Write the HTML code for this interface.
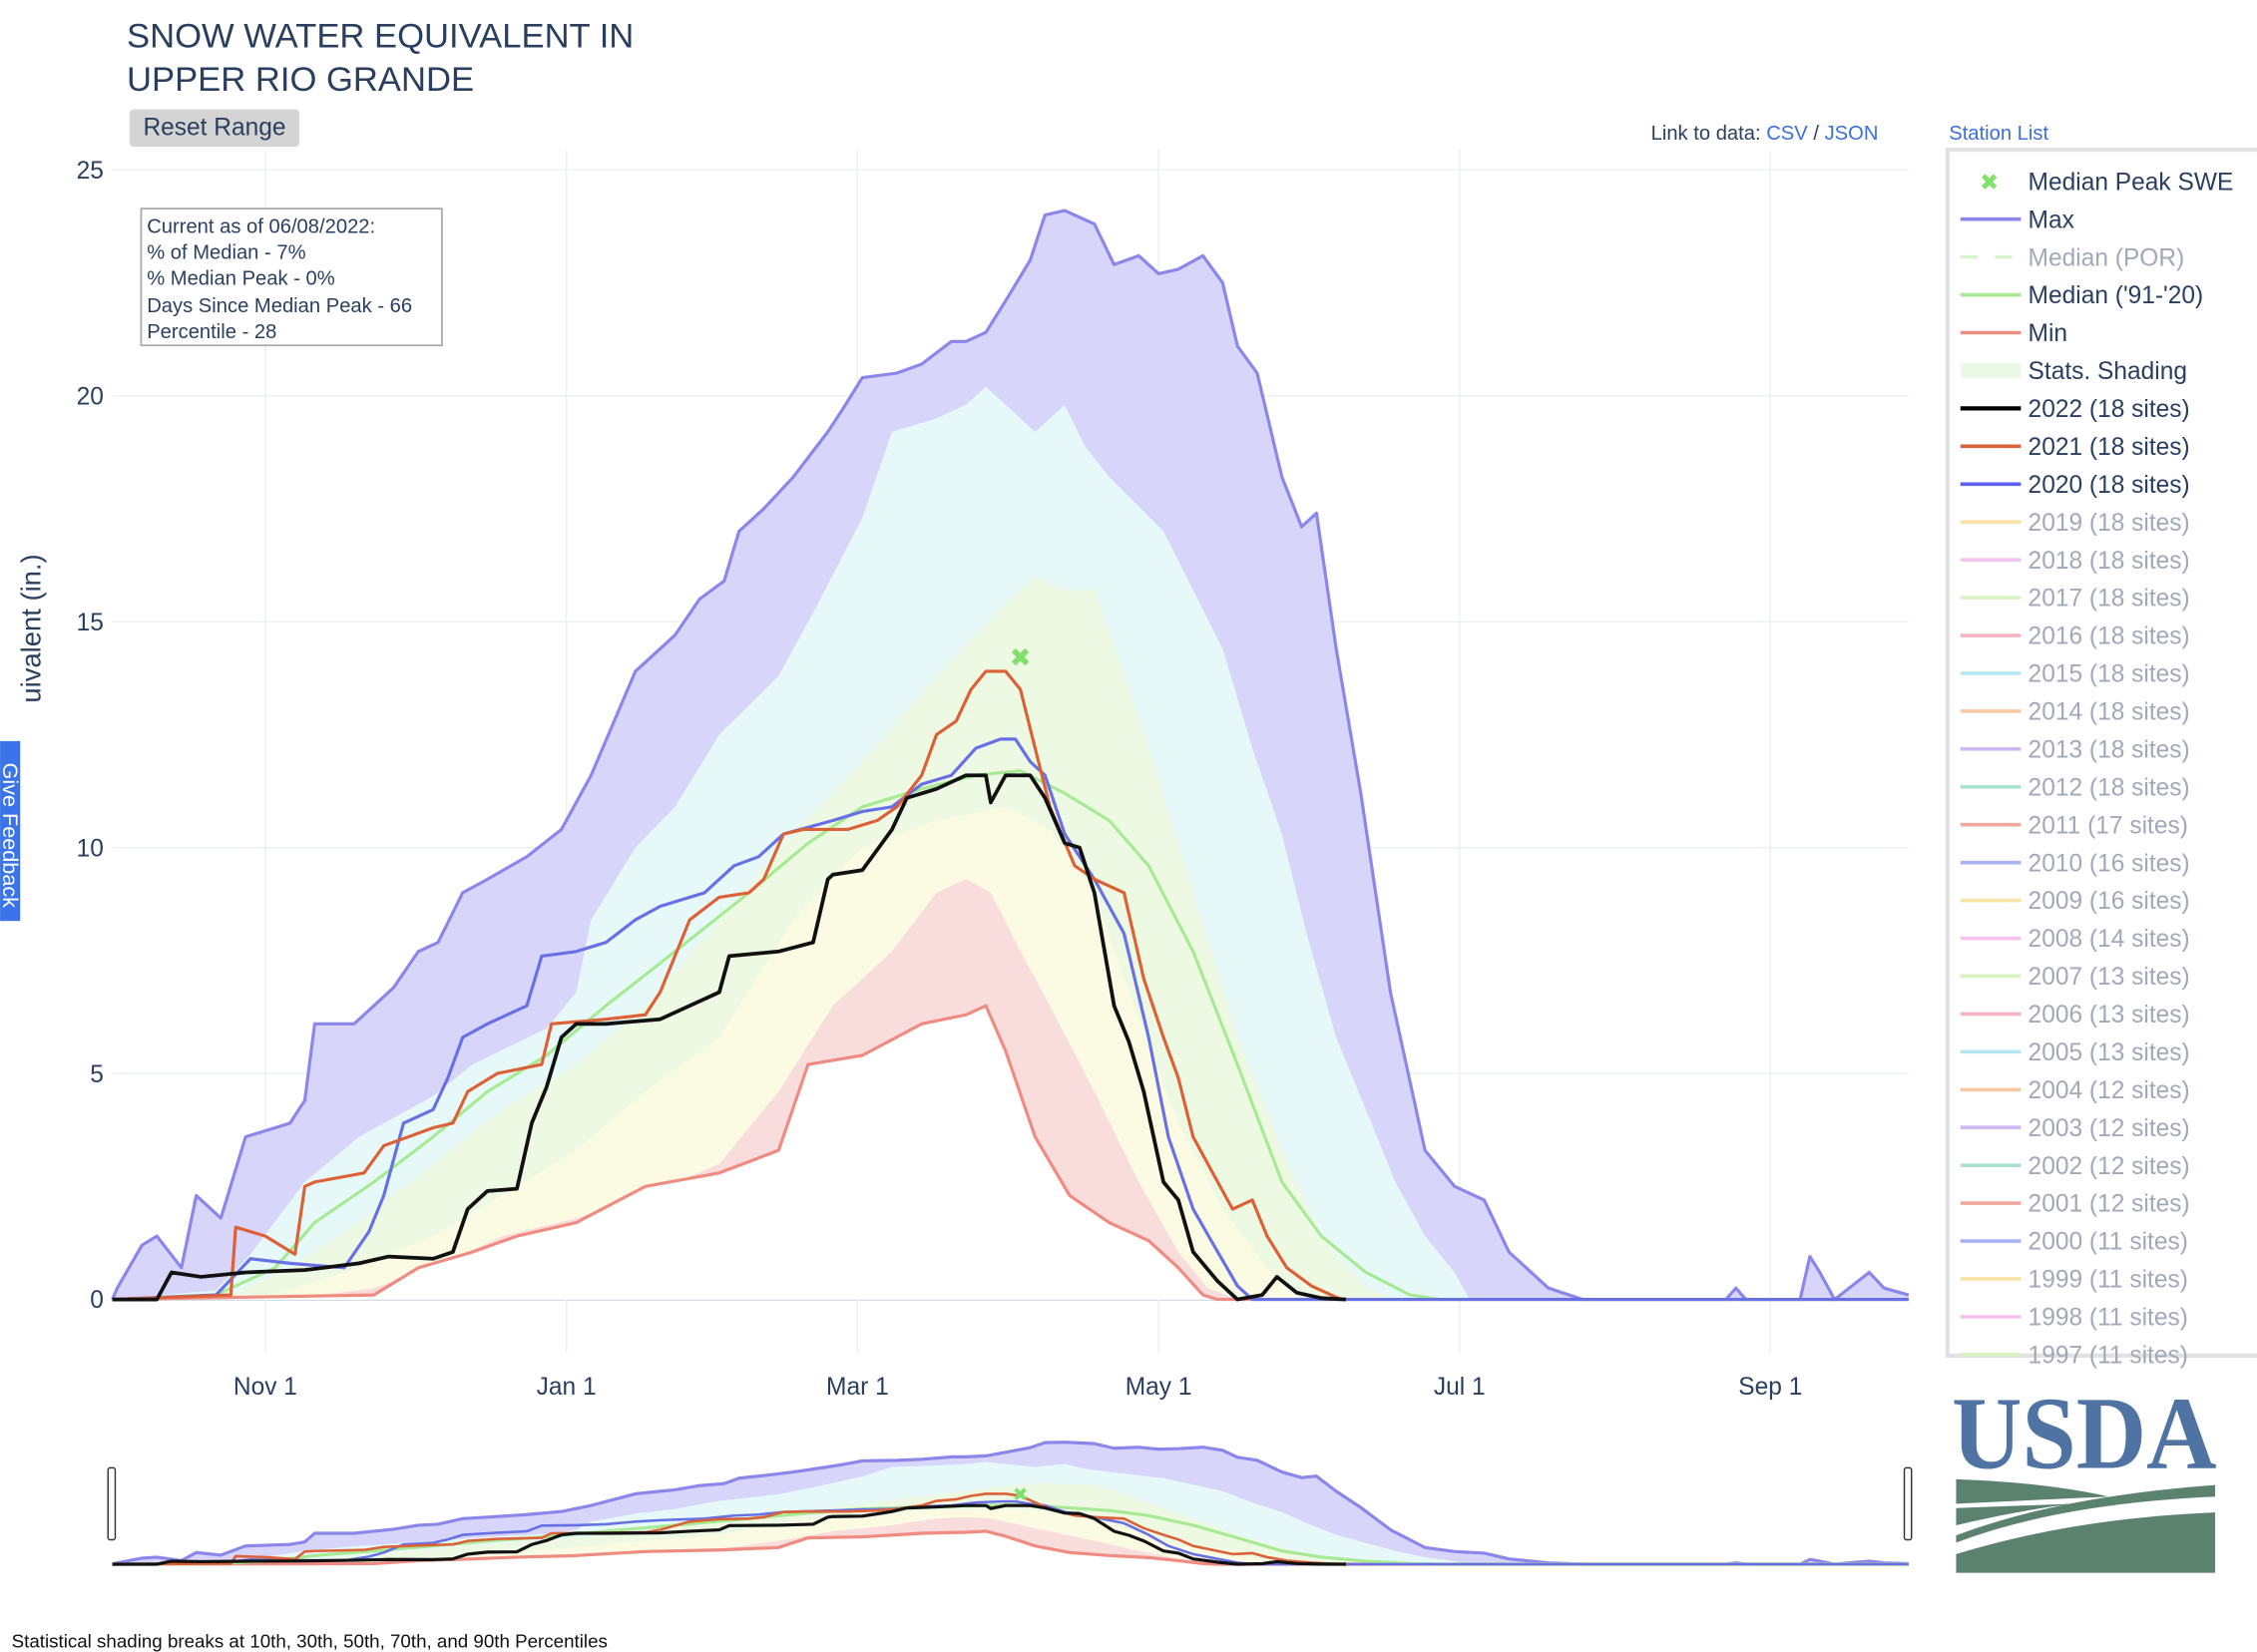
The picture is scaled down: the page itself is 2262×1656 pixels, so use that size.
<!DOCTYPE html>
<html><head><meta charset="utf-8"><style>
html,body{margin:0;padding:0;background:#fff;}
svg{display:block;font-family:"Liberation Sans","DejaVu Sans",sans-serif;}
</style></head><body>
<svg id="c" width="2262" height="1656" viewBox="0 0 1568 1148" xmlns="http://www.w3.org/2000/svg">
<g id="grid"></g>
<g id="bands"></g>
<g id="lines"></g>
<g id="axes"></g>
<g id="mini"></g>

<text x="88" y="33" font-size="24" fill="#2a3f5f">SNOW WATER EQUIVALENT IN</text>
<text x="88" y="63" font-size="24" fill="#2a3f5f">UPPER RIO GRANDE</text>
<g>
<rect x="90" y="76" width="118" height="26" rx="3" fill="#d4d4d4"/>
<text x="149" y="94" font-size="17" fill="#2a3f5f" text-anchor="middle">Reset Range</text></g>
<text x="1147" y="97" font-size="14" fill="#2a3f5f">Link to data: <tspan fill="#3b6fe0">CSV</tspan> / <tspan fill="#3b6fe0">JSON</tspan></text>
<text x="1354" y="97" font-size="14" fill="#3b6fe0">Station List</text>

<g>
<rect x="98" y="145" width="209" height="95" fill="#fff" stroke="#a8a8a8" stroke-width="1.2"/>
<text font-size="14" fill="#2a3f5f"><tspan x="102" y="162">Current as of 06/08/2022:</tspan><tspan x="102" y="180">% of Median - 7%</tspan><tspan x="102" y="198">% Median Peak - 0%</tspan><tspan x="102" y="217">Days Since Median Peak - 66</tspan><tspan x="102" y="235">Percentile - 28</tspan></text></g>

<text transform="translate(28,385) rotate(-90)" font-size="19" fill="#2a3f5f" text-anchor="end">uivalent (in.)</text>
<g>
<rect x="0" y="515" width="14" height="125" fill="#3b73e8"/>
<text transform="translate(2,530) rotate(90)" font-size="15" fill="#fff">Give Feedback</text></g>

<g id="legend">
<rect x="1353" y="104" width="220" height="838" fill="#fff" stroke="#e2e2e2" stroke-width="3"/>
</g>

<g>
<text x="1356" y="1020" font-family="Liberation Serif,serif" font-weight="bold" font-size="72" fill="#4f74a3" textLength="184" lengthAdjust="spacingAndGlyphs">USDA</text>
<path d="M1359 1028 Q1420 1030 1465 1040 L1359 1045 Z" fill="#5a826e"/>
<path d="M1359 1048 L1440 1045 Q1400 1050 1359 1060 Z" fill="#5a826e"/>
<path d="M1359 1067 Q1430 1040 1539 1032 L1539 1040 Q1430 1045 1359 1072 Z" fill="#5a826e"/>
<path d="M1359 1080 Q1440 1055 1539 1051 L1539 1093 L1359 1093 Z" fill="#5a826e"/>
</g>
<text x="8" y="1145" font-size="13" fill="#111">Statistical shading breaks at 10th, 30th, 50th, 70th, and 90th Percentiles</text>

<script>
// day index from Oct 1 (water year), values in inches
const maxDays=[0,1,6,9,14,17,22,27,33,36,39,41,49,53,57,62,66,71,76,84,91,97,106,111,114,119,124,127,132,138,145,148,152,159,164,170,173,177,181,186,189,193,199,203,208,212,216,221,225,228,232,237,241,244,248,253,259,266,272,278,283,291,298,327,329,331,342,344,346,349,356,359,364];
const maxVals=[0,0.25,1.2,1.4,0.7,2.3,1.8,3.6,3.8,3.9,4.4,6.1,6.1,6.5,6.9,7.7,7.9,9.0,9.3,9.8,10.4,11.6,13.9,14.4,14.7,15.5,15.9,17.0,17.5,18.2,19.2,19.7,20.4,20.5,20.7,21.2,21.2,21.4,22.1,23.0,24.0,24.1,23.8,22.9,23.1,22.7,22.8,23.1,22.5,21.1,20.5,18.2,17.1,17.4,14.4,11.2,6.8,3.3,2.5,2.2,1.05,0.25,0,0,0.25,0,0,0.95,0.6,0,0.6,0.25,0.1];
const p90Days=[0,21,28,39,50,65,73,88,94,97,106,114,123,135,143,152,158,167,173,177,181,187,193,197,202,213,219,225,231,237,242,248,254,260,266,272,275];
const p90Vals=[0,0.2,1.0,2.6,3.6,4.5,5.2,6.0,6.8,8.4,10.0,10.9,12.5,13.8,15.4,17.3,19.2,19.5,19.8,20.2,19.8,19.2,19.8,18.9,18.2,17.0,15.7,14.4,12.2,10.3,8.1,5.8,4.2,2.6,1.4,0.6,0];
const p70Days=[0,24,36,50,65,79,94,108,123,138,152,167,181,187,193,199,205,210,219,228,237,245,254,260];
const p70Vals=[0,0.1,0.7,1.7,3.0,4.2,5.2,6.5,8.4,10.3,11.9,13.8,15.4,16.0,15.7,15.7,13.8,12.2,9.0,5.8,3.3,1.4,0.25,0];
const p50Days=[0,30,50,65,79,94,108,123,138,152,167,181,190,199,207,216,225,234,240];
const p50Vals=[0,0,0.7,1.4,2.3,3.3,4.6,5.8,8.4,10.0,10.6,10.9,10.4,9.0,6.5,3.9,2.0,0.7,0.1];
const p30Days=[0,36,53,65,79,94,108,123,135,146,158,167,173,178,184,190,199,208,216,222,228];
const p30Vals=[0,0,0.25,0.7,1.4,1.8,2.3,3.0,4.6,6.5,7.7,9.0,9.3,9.0,7.7,6.5,4.6,2.6,1.05,0.25,0];
const minDays=[0,53,62,73,82,94,108,123,135,141,152,164,173,177,181,187,194,202,210,216,221,224,364];
const minVals=[0,0.1,0.7,1.05,1.4,1.7,2.5,2.8,3.3,5.2,5.4,6.1,6.3,6.5,5.5,3.6,2.3,1.7,1.3,0.7,0.1,0,0];
const medDays=[0,21,33,41,53,65,76,88,100,114,129,141,152,164,175,184,193,202,210,219,228,237,245,254,263,269,364];
const medVals=[0,0.1,0.7,1.7,2.6,3.6,4.6,5.4,6.5,7.7,9.0,10.1,10.9,11.3,11.6,11.7,11.2,10.6,9.6,7.7,5.2,2.6,1.4,0.6,0.1,0,0];
const medPeakDay=[184];
const medPeakVal=[14.2];
const y2022Days=[0,9,12,18,27,39,50,56,65,69,72,76,82,85,88,91,94,100,111,117,123,125,135,142,145,146,152,158,161,167,173,177,178,181,186,189,193,196,199,203,206,209,213,216,219,224,228,233,236,240,245,250];
const y2022Vals=[0,0,0.6,0.5,0.6,0.65,0.8,0.95,0.9,1.05,2.0,2.4,2.45,3.9,4.7,5.8,6.1,6.1,6.2,6.5,6.8,7.6,7.7,7.9,9.3,9.4,9.5,10.4,11.1,11.3,11.6,11.6,11.0,11.6,11.6,11.1,10.1,10.0,9.0,6.5,5.7,4.6,2.6,2.2,1.05,0.4,0,0.1,0.5,0.15,0.03,0];
const y2021Days=[0,24,25,31,37,39,41,51,55,60,65,69,72,78,87,89,100,108,111,114,117,123,129,132,136,140,149,155,159,164,167,171,174,177,181,184,187,190,195,199,205,209,213,216,219,222,227,231,234,238,243,249];
const y2021Vals=[0,0.1,1.6,1.4,1.0,2.5,2.6,2.8,3.4,3.6,3.8,3.9,4.6,5.0,5.2,6.1,6.2,6.3,6.8,7.6,8.4,8.9,9.0,9.3,10.3,10.4,10.4,10.6,10.9,11.6,12.5,12.8,13.5,13.9,13.9,13.5,12.2,10.9,9.6,9.3,9.0,7.1,5.8,4.9,3.6,3.0,2.0,2.2,1.4,0.7,0.3,0];
const y2020Days=[0,21,28,36,47,52,55,59,65,68,71,76,84,87,94,100,106,111,120,126,131,136,146,152,158,164,170,175,180,183,186,189,193,199,205,210,214,219,224,228,231,364];
const y2020Vals=[0,0.1,0.9,0.8,0.7,1.5,2.3,3.9,4.2,4.9,5.8,6.1,6.5,7.6,7.7,7.9,8.4,8.7,9.0,9.6,9.8,10.3,10.6,10.8,10.9,11.4,11.6,12.2,12.4,12.4,11.9,11.6,10.3,9.3,8.1,5.8,3.6,2.0,1.05,0.3,0,0];
const yTicks=[0,5,10,15,20,25];
const xTickDays=[31,92,151,212,273,336];
const xTickLabels=["Nov  1","Jan  1","Mar  1","May  1","Jul  1","Sep  1"];
const legendLabels=["Median Peak SWE","Max","Median (POR)","Median ('91-'20)","Min","Stats. Shading","2022 (18 sites)","2021 (18 sites)","2020 (18 sites)","2019 (18 sites)","2018 (18 sites)","2017 (18 sites)","2016 (18 sites)","2015 (18 sites)","2014 (18 sites)","2013 (18 sites)","2012 (18 sites)","2011 (17 sites)","2010 (16 sites)","2009 (16 sites)","2008 (14 sites)","2007 (13 sites)","2006 (13 sites)","2005 (13 sites)","2004 (12 sites)","2003 (12 sites)","2002 (12 sites)","2001 (12 sites)","2000 (11 sites)","1999 (11 sites)","1998 (11 sites)","1997 (11 sites)"];

const NS="http://www.w3.org/2000/svg";
const X0=78,X1=1326;
function xs(d){return X0+(X1-X0)*d/364;}
function ys(v){return 903-(903-118)*v/25;}
function ysm(v){return 1087-88*v/25;}
function mk(tag,attrs,parent){const e=document.createElementNS(NS,tag);for(const k in attrs)e.setAttribute(k,attrs[k]);parent.appendChild(e);return e;}
function pts(days,vals,yf){return days.map((d,i)=>xs(d).toFixed(1)+","+yf(vals[i]).toFixed(1)).join(" ");}
function area(days,vals,yf,base){return "M"+xs(days[0])+","+base+" L"+pts(days,vals,yf)+" L"+xs(days[days.length-1])+","+base+" Z";}

const grid=document.getElementById("grid");
yTicks.forEach(t=>{const l=mk("line",{x1:X0,x2:X1,y1:ys(t),y2:ys(t),stroke:t===0?"#d6dce6":"#ebeff5","stroke-width":t===0?2:1},grid);

});
xTickDays.forEach(d=>{const l=mk("line",{x1:xs(d),x2:xs(d),y1:104,y2:940,stroke:"#ebeff5","stroke-width":1},grid);

});

function drawBands(g,yf,base){
 const bands=[[maxDays,maxVals,"#d7d5fa","band-max-90"],[p90Days,p90Vals,"#e6f9f8","band-90-70"],[p70Days,p70Vals,"#eef9e4","band-70-50"],[p50Days,p50Vals,"#fbfbe4","band-50-30"],[p30Days,p30Vals,"#f9dcdc","band-30-min"],[minDays,minVals,"#ffffff","below-min"]];
 bands.forEach(b=>{const p=mk("path",{d:area(b[0],b[1],yf,base),fill:b[2]},g);
 
 });
}
function drawLines(g,yf,w){
 const L=[[maxDays,maxVals,"#8c86eb",2.2,"max-line"],[minDays,minVals,"#ef8b80",2.2,"min-line"],[medDays,medVals,"#a6eb93",2.2,"median-line"],[y2020Days,y2020Vals,"#6770e4",w,"line-2020"],[y2021Days,y2021Vals,"#dc6137",w,"line-2021"],[y2022Days,y2022Vals,"#111111",w+0.4,"line-2022"]];
 L.forEach(s=>{const p=mk("polyline",{points:pts(s[0],s[1],yf),fill:"none",stroke:s[2],"stroke-width":s[3],"stroke-linejoin":"round"},g);
 
 });
 const m=mk("text",{x:xs(medPeakDay[0]),y:yf(medPeakVal[0])+6,"font-size":yf===ys?18:13,"font-weight":"bold",fill:"#7fe06a","text-anchor":"middle"},g);
 m.textContent="✖";
 
 
}
drawBands(document.getElementById("bands"),ys,903);
drawLines(document.getElementById("lines"),ys,2.2);

const axes=document.getElementById("axes");
yTicks.forEach(t=>{const e=mk("text",{x:72,y:ys(t)+6,"font-size":17,fill:"#2a3f5f","text-anchor":"end"},axes);e.textContent=t;

});
xTickDays.forEach((d,i)=>{const e=mk("text",{x:xs(d),y:969,"font-size":17,fill:"#2a3f5f","text-anchor":"middle","xml:space":"preserve"},axes);e.textContent=xTickLabels[i];

});

const mini=document.getElementById("mini");
drawBands(mini,ysm,1087);
drawLines(mini,ysm,1.8);
[X0,X1].forEach(x=>{const h=mk("rect",{x:x-3,y:1020,width:5,height:50,rx:1.5,fill:"#fff",stroke:"#333","stroke-width":1},mini);

});

const leg=document.getElementById("legend");
const legCol=["#7fe06a","#8c86eb","#d6f5cc","#a6eb93","#ef8b80","#eaf9e6","#000","#dc6137","#5a62f0","#fbe3a8","#f5c2f0","#d8f2c0","#f6b3c3","#b3e8f2","#f8c9a3","#cdb8f5","#a8e3cf","#f0a89d","#aab1f3","#fbe3a8","#f5c2f0","#d8f2c0","#f6b3c3","#b3e8f2","#f8c9a3","#cdb8f5","#a8e3cf","#f0a89d","#aab1f3","#fbe3a8","#f5c2f0","#d8f2c0"];
const activeIdx=[0,1,3,4,5,6,7,8];
legendLabels.forEach((lab,i)=>{
 const y=126+i*26.3; if(y>945)return;
 const g=mk("g",{},leg);
 
 
 if(i===0){const t=mk("text",{x:1382,y:y+6,"font-size":16,"font-weight":"bold",fill:legCol[i],"text-anchor":"middle"},g);t.textContent="✖";}
 else if(i===5){mk("rect",{x:1362,y:y-5,width:42,height:10,fill:legCol[i]},g);}
 else{mk("line",{x1:1362,x2:1404,y1:y,y2:y,stroke:legCol[i],"stroke-width":i===6?3:2.5,"stroke-dasharray":i===2?"12,12":"none"},g);}
 const t=mk("text",{x:1409,y:y+6,"font-size":17,fill:activeIdx.includes(i)?"#2a3f5f":"#a1a9b8"},g);t.textContent=lab;
});
</script>
</svg>
</body></html>
